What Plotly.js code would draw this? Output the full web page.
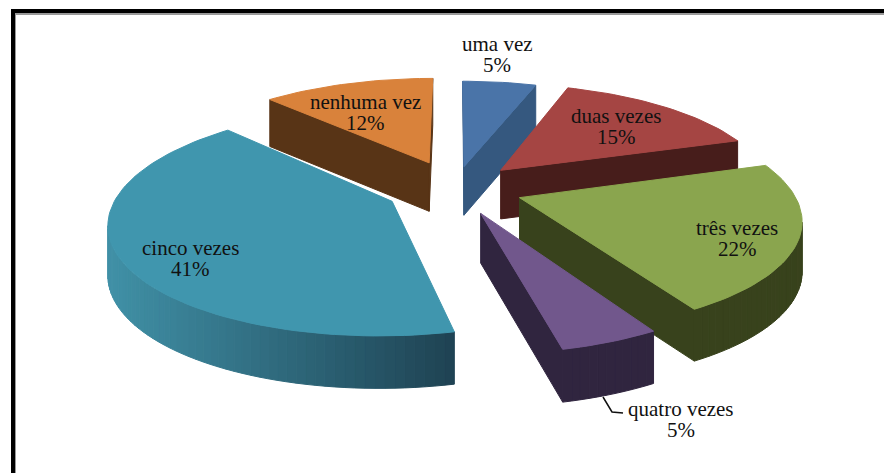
<!DOCTYPE html>
<html><head><meta charset="utf-8">
<script src="https://cdn.plot.ly/plotly-3.0.1.min.js"></script>
<style>html,body{margin:0;padding:0;background:#fff}#c{width:884px;height:473px}</style>
</head><body><div id="c"></div>
<script>
// Data
var categories = ['uma vez','duas vezes','três vezes','quatro vezes','cinco vezes','nenhuma vez'];
var percents = [5,15,22,5,41,12];
// estimated unrounded shares, read from the slice boundaries; they round to the labels above
var shares = [5.2,14.8,21.6,4.8,41.4,12.2];
var pulls = [57,66,68,67,70,72];
var topColors = ['#4a74a8','#a54543','#8aa54e','#71578c','#4096ae','#d9823b'];
var wallColors = ['#35587f','#471d1b','#38421c','#30253f',null,'#583416'];
var drawOrder = [5,0,1,4,2,3];
var labelX = [497,616,737,681,190,365];
var labelY = [44,116,228,409,248,102];

// Projection of the tilted, exploded pie
var cx=455, cy=188, R=272, tilt=0.392, a=0.17, depth=49;
function proj(X,Y){
  var p=1/(1-a*Y/R);
  return {x:cx+X*p, y:cy+Y*tilt*p, d:depth*(1+0.3*(p-1))};
}
var traces=[];
function poly(pts,color){
  var xs=pts.map(function(q){return q.x}), ys=pts.map(function(q){return q.y});
  xs.push(xs[0]); ys.push(ys[0]);
  traces.push({type:'scatter',mode:'lines',x:xs,y:ys,fill:'toself',fillcolor:color,
    line:{color:color,width:1},hoverinfo:'skip',showlegend:false});
}
function mix(c1,c2,f){
  var r=c1.map(function(v,i){return Math.round(v+(c2[i]-v)*f)});
  return 'rgb('+r.join(',')+')';
}
var total=shares.reduce(function(s,v){return s+v},0);
var starts=[],acc=0;
shares.forEach(function(v){starts.push(acc/total*2*Math.PI);acc+=v;});
drawOrder.forEach(function(i){
  var t0=starts[i], t1=t0+shares[i]/total*2*Math.PI, mid=(t0+t1)/2;
  var ox=pulls[i]*Math.sin(mid), oy=-pulls[i]*Math.cos(mid);
  var apex=proj(ox,oy), loop=[apex];
  var n=Math.max(6,Math.ceil((t1-t0)/0.03));
  for(var k=0;k<=n;k++){
    var t=t0+(t1-t0)*k/n;
    loop.push(proj(ox+R*Math.sin(t),oy-R*Math.cos(t)));
  }
  loop.push(apex);
  for(var j=0;j<loop.length-1;j++){
    var A=loop[j],B=loop[j+1];
    if(B.x-A.x>=-0.01) continue;
    var col=wallColors[i];
    if(!col){var f=Math.min(1,Math.max(0,((A.x+B.x)/2-110)/346));
      col=mix([64,144,166],[30,66,82],f);}
    poly([A,B,{x:B.x,y:B.y+B.d},{x:A.x,y:A.y+A.d}],col);
  }
  poly(loop.slice(0,-1),topColors[i]);
});
// leader line from the quatro vezes slice to its label
traces.push({type:'scatter',mode:'lines',x:[603,612,623],y:[397,412,413],
  line:{color:'#111',width:1.5},hoverinfo:'skip',showlegend:false});

var annotations=[];
categories.forEach(function(c,i){
  [c,percents[i]+'%'].forEach(function(txt,l){
    annotations.push({x:labelX[i],y:labelY[i]+21*l,xref:'x',yref:'y',text:txt,showarrow:false,
      font:{family:'Liberation Serif',size:21,color:'#111'}});
  });
});
var layout={width:884,height:473,margin:{l:0,r:0,t:0,b:0},paper_bgcolor:'#fff',plot_bgcolor:'#fff',showlegend:false,
  xaxis:{range:[0,884],visible:false,fixedrange:true},
  yaxis:{range:[473,0],visible:false,fixedrange:true},
  annotations:annotations,
  shapes:[
   {type:'rect',xref:'x',yref:'y',x0:11,x1:884,y0:9,y1:13,fillcolor:'#000',line:{width:0},layer:'below'},
   {type:'rect',xref:'x',yref:'y',x0:11,x1:15,y0:9,y1:473,fillcolor:'#000',line:{width:0},layer:'below'},
   {type:'rect',xref:'x',yref:'y',x0:15,x1:884,y0:13,y1:15,fillcolor:'#999',line:{width:0},layer:'below'},
   {type:'rect',xref:'x',yref:'y',x0:15,x1:16,y0:13,y1:473,fillcolor:'#999',line:{width:0},layer:'below'}
  ]};
Plotly.newPlot('c',traces,layout,{displayModeBar:false,staticPlot:true});
</script></body></html>
